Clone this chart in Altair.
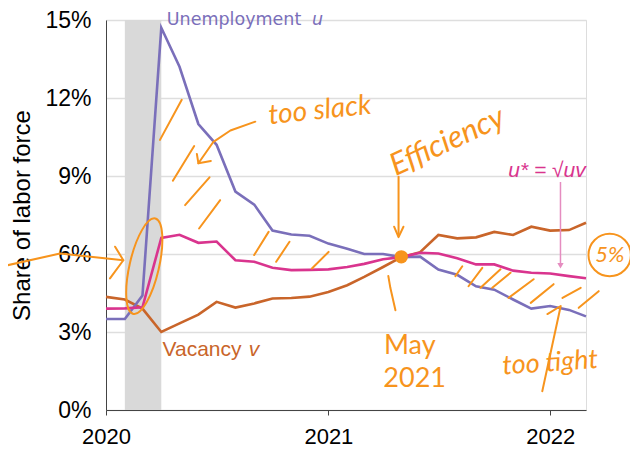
import altair as alt
import pandas as pd

months = [
    "2020-01-01", "2020-02-01", "2020-03-01", "2020-04-01", "2020-05-01", "2020-06-01",
    "2020-07-01", "2020-08-01", "2020-09-01", "2020-10-01", "2020-11-01", "2020-12-01",
    "2021-01-01", "2021-02-01", "2021-03-01", "2021-04-01", "2021-05-01", "2021-06-01",
    "2021-07-01", "2021-08-01", "2021-09-01", "2021-10-01", "2021-11-01", "2021-12-01",
    "2022-01-01", "2022-02-01", "2022-03-01",
]
unemployment = [3.5, 3.5, 4.4, 14.7, 13.2, 11.0, 10.2, 8.4, 7.9, 6.9, 6.75, 6.7,
                6.4, 6.2, 6.0, 6.0, 5.88, 5.9, 5.4, 5.2, 4.76, 4.63, 4.25, 3.9,
                4.0, 3.85, 3.6]
vacancy = [4.35, 4.25, 3.9, 3.0, 3.33, 3.67, 4.16, 3.94, 4.1, 4.29, 4.31, 4.36,
           4.54, 4.8, 5.12, 5.5, 5.88, 6.07, 6.73, 6.6, 6.64, 6.85, 6.73, 7.05,
           6.9, 6.92, 7.2]
ustar = [3.9, 3.91, 3.95, 6.62, 6.74, 6.43, 6.48, 5.76, 5.7, 5.47, 5.38, 5.39,
         5.41, 5.5, 5.62, 5.8, 5.88, 6.05, 6.02, 5.84, 5.6, 5.6, 5.36, 5.28,
         5.25, 5.15, 5.07]

recession_start = ["2020-02-01"]
recession_end = ["2020-04-01"]

# handwritten pen strokes (decimal year, percent) -- annotations drawn over the chart
strokes = [
    # hatching in the "too slack" area
    [(2020.243, 10.39), (2020.341, 11.93)],
    [(2020.301, 8.82), (2020.397, 10.15)],
    [(2020.356, 7.88), (2020.466, 8.95)],
    [(2020.419, 6.98), (2020.514, 8.07)],
    [(2020.667, 5.96), (2020.732, 6.85)],
    [(2020.766, 5.70), (2020.826, 6.47)],
    [(2020.927, 5.44), (2021.002, 6.08)],
    # hatching in the "too tight" area
    [(2021.573, 5.15), (2021.604, 5.53)],
    [(2021.632, 4.76), (2021.694, 5.47)],
    [(2021.686, 4.70), (2021.776, 5.41)],
    [(2021.739, 4.70), (2021.821, 5.28)],
    [(2021.812, 4.31), (2021.925, 5.03)],
    [(2021.912, 4.12), (2022.015, 4.84)],
    [(2022.055, 4.31), (2022.137, 4.70)],
    [(2022.128, 3.93), (2022.218, 4.57)],
    # arrows
    [(2020.672, 11.09), (2020.560, 10.75), (2020.482, 10.30), (2020.416, 9.49)],
    [(2020.409, 9.85), (2020.416, 9.49), (2020.472, 9.58)],
    [(2019.558, 5.57), (2019.793, 6.02), (2020.078, 5.76)],
    [(2020.041, 6.28), (2020.078, 5.76), (2020.018, 5.06)],
    [(2021.317, 8.97), (2021.317, 6.70)],
    [(2021.297, 7.05), (2021.317, 6.65), (2021.339, 7.05)],
    [(2021.303, 3.84), (2021.280, 4.70), (2021.271, 5.15)],
    [(2021.987, 3.69), (2022.047, 4.0), (2021.964, 0.72)],
]

C_U = "#7a6fba"
C_V = "#c9652a"
C_S = "#d9348e"
C_ARROW = "#e58cc0"
C_HAND = "#f7941d"

df = pd.DataFrame({"month": months, "u": unemployment, "v": vacancy, "ustar": ustar})

def year_to_date(t):
    return (pd.Timestamp("2020-01-01") + pd.Timedelta(days=(t - 2020) * 365.6)).strftime("%Y-%m-%dT%H:%M:%S")

stroke_rows = []
for i, s in enumerate(strokes):
    for j, (t, val) in enumerate(s):
        stroke_rows.append({"sid": i, "o": j, "d": year_to_date(t), "y": val})
stroke_df = pd.DataFrame(stroke_rows)

xdom = [alt.DateTime(year=2020, month=1, date=1, utc=True),
        alt.DateTime(year=2022, month=3, date=1, utc=True)]
xscale = alt.Scale(type="utc", domain=xdom)
yscale = alt.Scale(domain=[0, 15])

xaxis = alt.Axis(
    values=[alt.DateTime(year=y, month=1, date=1, utc=True) for y in (2020, 2021, 2022)],
    format="%Y", grid=False, title=None, labelFontSize=22, labelColor="#000",
    domainColor="#444", tickColor="#444", tickSize=5, labelPadding=11, labelFlush=False,
)
yaxis = alt.Axis(
    values=[0, 3, 6, 9, 12, 15], labelExpr="datum.value + '%'", grid=True,
    gridColor="#dedede", gridWidth=1.5, domainColor="#444", ticks=False,
    labelFontSize=23, labelColor="#000", labelPadding=15,
    title="Share of labor force", titleFontSize=24, titleFontWeight="normal",
    titleColor="#000", titlePadding=10,
)

X = lambda f: alt.X(f, scale=xscale, axis=xaxis)
Y = lambda f: alt.Y(f, scale=yscale, axis=yaxis)

shade = alt.Chart(pd.DataFrame({"s": recession_start, "e": recession_end})).mark_rect(
    color="#d9d9d9"
).encode(
    x=X("s:T"),
    x2="e:T",
    y=alt.datum(0, scale=yscale, axis=yaxis, type="quantitative"),
    y2=alt.datum(15),
)

def line(col, color):
    return alt.Chart(df).mark_line(color=color, strokeWidth=2.6).encode(
        x=X("month:T"), y=Y(f"{col}:Q"),
    )

lv = line("v", C_V)
lu = line("u", C_U)
ls = line("ustar", C_S)

def label(text, date, value, color, size, italic=False, align="left", baseline="alphabetic", angle=0, font="Liberation Sans"):
    return alt.Chart(pd.DataFrame({"d": [date], "y": [value], "t": [text]})).mark_text(
        color=color, fontSize=size, align=align, baseline=baseline,
        fontStyle="italic" if italic else "normal", angle=angle, font=font,
    ).encode(x=X("d:T"), y=Y("y:Q"), text="t:N")

labels = [
    label("Unemployment", "2020-04-10", 14.82, C_U, 17.5, font="DejaVu Sans"),
    label("u", "2020-12-05", 14.82, C_U, 17.5, italic=True, font="DejaVu Sans"),
    label("Vacancy", "2020-04-03", 2.07, C_V, 21),
    label("v", "2020-08-23", 2.07, C_V, 21, italic=True),
    label("u* = √uv", "2021-10-24", 8.97, C_S, 21, italic=True),
]

arrow_df = pd.DataFrame({"d": ["2022-01-18"], "y1": [8.77], "y2": [5.55]})
arrow_line = alt.Chart(arrow_df).mark_rule(color=C_ARROW, strokeWidth=1.5).encode(
    x=X("d:T"), y=Y("y1:Q"), y2="y2:Q",
)
arrow_head = alt.Chart(arrow_df).mark_point(
    shape="triangle-down", filled=True, color=C_ARROW, size=40, opacity=1
).encode(x=X("d:T"), y=Y("y2:Q"))

# handwritten annotations
hand = [
    label("too slack", "2020-12-18", 11.5, C_HAND, 28, italic=True, align="center", baseline="middle", angle=354, font="Lato"),
    label("Efficiency", "2021-07-16", 10.3, C_HAND, 31, italic=True, align="center", baseline="middle", angle=335, font="Lato"),
    label("May", "2021-05-15", 2.45, C_HAND, 27, align="center", baseline="middle", font="Lato"),
    label("2021", "2021-05-23", 1.2, C_HAND, 27, align="center", baseline="middle", font="Lato"),
    label("too tight", "2022-01-01", 1.8, C_HAND, 27, italic=True, align="center", baseline="middle", angle=356, font="Lato"),
    label("5%", "2022-04-09", 5.96, C_HAND, 22, italic=True, align="center", baseline="middle", font="Lato"),
]
pen = alt.Chart(stroke_df).mark_line(color=C_HAND, strokeWidth=2, strokeCap="round", strokeJoin="round").encode(
    x=X("d:T"), y=Y("y:Q"), detail="sid:N", order="o:Q",
)
dot = alt.Chart(pd.DataFrame({"d": ["2021-05-01"], "y": [5.89]})).mark_point(
    filled=True, color=C_HAND, size=180, opacity=1
).encode(x=X("d:T"), y=Y("y:Q"))
ring = alt.Chart(pd.DataFrame({"d": ["2022-04-09"], "y": [5.96]})).mark_point(
    filled=False, color=C_HAND, size=1800, strokeWidth=2, opacity=1
).encode(x=X("d:T"), y=Y("y:Q"))
ellipse = alt.Chart(pd.DataFrame({"d": ["2020-03-04"], "y": [5.53]})).mark_point(
    filled=False, color=C_HAND, strokeWidth=2, opacity=1, angle=13,
    shape="M0,-1 A0.3,1 0 1,1 0,1 A0.3,1 0 1,1 0,-1 Z", size=9600,
).encode(x=X("d:T"), y=Y("y:Q"))

chart = alt.layer(shade, lv, lu, ls, *labels, arrow_line, arrow_head, pen, *hand, dot, ring, ellipse).properties(
    width=480, height=390,
    autosize=alt.AutoSizeParams(type="none"),
    padding={"left": 98, "top": 12, "right": 44, "bottom": 40},
).configure_view(stroke=None).configure(font="Liberation Sans")

chart.save("out.html", embed_options={"renderer": "svg", "actions": False})
